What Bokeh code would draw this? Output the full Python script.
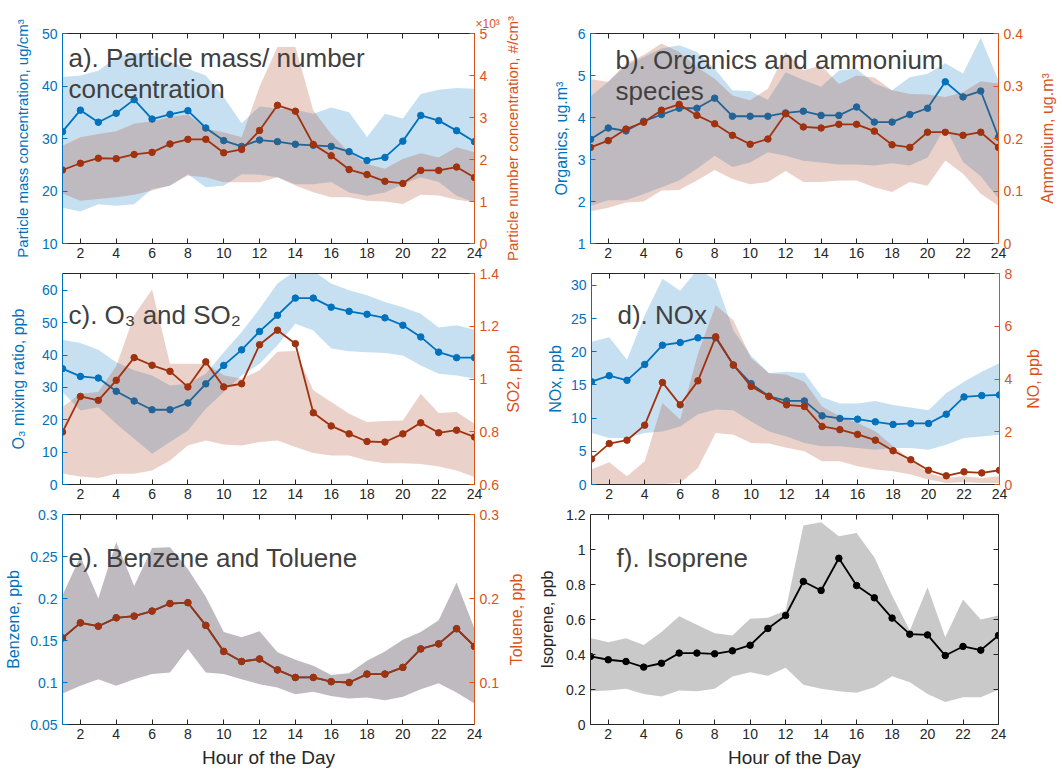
from math import pi

from bokeh.plotting import figure
from bokeh.models import Range1d, LinearAxis, FixedTicker, NumeralTickFormatter, Label, Title
from bokeh.layouts import column, row
from bokeh.embed import file_html
from bokeh.resources import INLINE

FONT = "Liberation Sans"
BLUE = "#0072BD"
RUST = "#A0320F"
AX_ORANGE = "#D95319"
DARK = "#262626"
TITLE_GRAY = "#404040"
ISO_FILL = "#C9C9C9"

hours = list(range(1, 25))
hour_ticks = list(range(2, 25, 2))

# ---- a) particle mass (ug/cm3) and number (x10^3 #/cm3) ----
pm_mean = [31.3, 35.4, 33.1, 34.8, 37.4, 33.7, 34.6, 35.3, 32.0, 29.6, 28.5, 29.7,
           29.4, 28.9, 28.7, 28.5, 27.5, 25.8, 26.4, 29.5, 34.4, 33.4, 31.5, 29.4]
pm_hi = [41.7, 42.0, 42.9, 45.5, 46.3, 45.9, 44.6, 43.3, 42.0, 37.9, 32.9, 36.1,
         35.7, 35.5, 34.7, 35.9, 35.0, 30.3, 34.7, 33.8, 38.5, 39.3, 39.6, 39.5]
pm_lo = [16.8, 16.1, 17.5, 17.2, 17.5, 20.4, 21.0, 23.2, 20.7, 21.0, 23.2, 23.1,
         22.6, 21.3, 21.3, 21.7, 19.7, 19.1, 19.7, 21.3, 22.6, 21.7, 19.1, 17.8]
pn_mean = [1.75, 1.91, 2.03, 2.02, 2.12, 2.17, 2.37, 2.48, 2.48, 2.16, 2.24, 2.69,
           3.29, 3.15, 2.36, 2.09, 1.76, 1.64, 1.48, 1.43, 1.74, 1.74, 1.82, 1.57]
pn_hi = [2.33, 2.53, 2.61, 2.67, 2.85, 2.91, 3.01, 3.07, 2.73, 2.65, 2.53, 3.73,
         4.68, 4.68, 3.17, 2.61, 2.17, 1.89, 1.78, 2.01, 2.15, 2.05, 2.29, 2.17]
pn_lo = [1.19, 1.02, 1.06, 1.10, 1.16, 1.26, 1.38, 1.62, 1.58, 1.46, 1.46, 1.46,
         1.58, 1.38, 1.22, 1.10, 1.10, 1.02, 1.00, 0.94, 1.16, 1.14, 1.04, 0.98]

# ---- b) organics and ammonium ----
org_mean = [3.48, 3.75, 3.68, 3.91, 4.07, 4.22, 4.22, 4.46, 4.03, 4.03, 4.03, 4.11,
            4.15, 4.05, 4.05, 4.25, 3.89, 3.89, 4.07, 4.22, 4.85, 4.49, 4.63, 3.53]
org_hi = [4.50, 4.85, 5.24, 5.44, 5.64, 5.72, 5.56, 5.16, 4.65, 4.63, 4.42, 5.08,
          4.89, 4.73, 5.12, 5.16, 4.81, 4.65, 4.96, 5.04, 5.29, 5.05, 5.90, 4.88]
org_lo = [1.90, 2.03, 2.03, 2.18, 2.34, 2.50, 2.78, 3.09, 2.82, 2.93, 3.17, 3.09,
          2.97, 2.93, 2.88, 2.88, 2.86, 2.91, 2.86, 3.05, 3.77, 2.94, 2.60, 2.07]
amm_mean = [0.183, 0.196, 0.218, 0.231, 0.254, 0.265, 0.244, 0.228, 0.206, 0.189, 0.199, 0.247,
            0.222, 0.220, 0.227, 0.227, 0.214, 0.188, 0.183, 0.212, 0.212, 0.206, 0.212, 0.183]
amm_hi = [0.313, 0.308, 0.343, 0.359, 0.381, 0.365, 0.336, 0.314, 0.282, 0.273, 0.295, 0.365,
          0.330, 0.339, 0.304, 0.320, 0.316, 0.292, 0.285, 0.284, 0.279, 0.288, 0.309, 0.305]
amm_lo = [0.061, 0.068, 0.078, 0.080, 0.101, 0.102, 0.120, 0.140, 0.123, 0.113, 0.117, 0.138,
          0.117, 0.117, 0.120, 0.120, 0.107, 0.098, 0.117, 0.110, 0.158, 0.133, 0.095, 0.072]

# ---- c) O3 and SO2 ----
o3_mean = [35.8, 33.4, 32.9, 28.8, 25.8, 23.1, 23.1, 25.2, 31.1, 36.8, 41.6, 47.3,
           52.3, 57.6, 57.6, 54.8, 53.5, 52.6, 51.5, 49.2, 45.6, 40.9, 39.2, 39.2]
o3_hi = [44.7, 43.7, 41.6, 37.8, 35.3, 33.7, 30.6, 31.1, 34.2, 40.9, 47.1, 54.3,
         62.1, 66.0, 66.0, 62.1, 60.0, 58.5, 56.4, 54.8, 52.8, 48.5, 49.2, 47.8]
o3_lo = [28.6, 22.9, 23.9, 18.8, 14.1, 9.5, 13.1, 16.7, 23.4, 28.6, 33.7, 37.3,
         43.0, 49.7, 47.6, 42.0, 41.2, 40.9, 40.6, 39.9, 36.8, 34.2, 33.7, 32.7]
so2_mean = [0.799, 0.934, 0.919, 0.995, 1.081, 1.052, 1.029, 0.970, 1.065, 0.970, 0.982, 1.130,
            1.185, 1.134, 0.872, 0.822, 0.792, 0.763, 0.761, 0.792, 0.834, 0.796, 0.806, 0.780]
so2_hi = [0.894, 0.944, 0.951, 1.048, 1.242, 1.339, 1.058, 1.058, 1.058, 1.014, 1.001, 1.033,
          1.103, 1.106, 0.957, 0.913, 0.868, 0.837, 0.841, 0.843, 0.944, 0.871, 0.875, 0.830]
so2_lo = [0.641, 0.630, 0.625, 0.641, 0.641, 0.653, 0.691, 0.748, 0.767, 0.752, 0.748, 0.761,
          0.767, 0.742, 0.719, 0.710, 0.710, 0.691, 0.681, 0.681, 0.678, 0.668, 0.653, 0.628]

# ---- d) NOx and NO ----
nox_mean = [15.5, 16.4, 15.7, 18.1, 21.0, 21.4, 22.1, 22.1, 18.0, 15.2, 13.3, 12.6,
            12.6, 10.35, 9.95, 9.85, 9.45, 9.05, 9.2, 9.2, 10.6, 13.2, 13.4, 13.5]
nox_hi = [21.5, 22.2, 18.8, 25.5, 31.0, 29.2, 32.5, 30.8, 23.2, 19.4, 16.8, 17.0,
          16.8, 13.2, 12.2, 12.2, 12.6, 12.0, 11.6, 11.2, 13.8, 15.5, 17.0, 18.3]
nox_lo = [7.75, 7.0, 7.0, 7.75, 8.0, 8.75, 10.6, 11.3, 11.2, 9.5, 8.0, 7.25,
          6.25, 5.75, 5.75, 5.5, 5.25, 5.5, 5.5, 5.25, 6.0, 7.0, 7.25, 7.5]
no_mean = [0.97, 1.55, 1.68, 2.25, 3.87, 3.02, 3.93, 5.60, 4.53, 3.72, 3.34, 3.02,
           2.96, 2.20, 2.08, 1.90, 1.68, 1.28, 0.94, 0.54, 0.33, 0.48, 0.44, 0.54]
no_hi = [0.57, 0.84, 0.31, 0.88, 3.09, 2.46, 4.97, 6.80, 6.23, 4.79, 4.22, 4.16,
         3.90, 2.96, 2.58, 2.33, 2.02, 1.45, 0.94, 0.44, 0.25, 0.31, 0.25, 0.31]
no_lo = [0.0, 0.0, 0.0, 0.0, 0.02, 0.06, 0.63, 1.95, 1.89, 1.57, 1.55, 1.39,
         1.26, 0.88, 0.88, 0.69, 0.57, 0.50, 0.38, 0.19, 0.06, 0.09, 0.06, 0.06]

# ---- e) benzene and toluene ----
benz_mean = [0.153, 0.171, 0.167, 0.177, 0.179, 0.185, 0.194, 0.195, 0.168, 0.137, 0.125, 0.128,
             0.115, 0.106, 0.106, 0.101, 0.100, 0.110, 0.110, 0.118, 0.140, 0.146, 0.164, 0.143]
benz_hi = [0.204, 0.250, 0.200, 0.267, 0.215, 0.260, 0.261, 0.235, 0.202, 0.160, 0.154, 0.161,
           0.136, 0.127, 0.120, 0.109, 0.111, 0.126, 0.137, 0.151, 0.160, 0.174, 0.219, 0.164]
benz_lo = [0.087, 0.096, 0.104, 0.096, 0.104, 0.110, 0.112, 0.140, 0.112, 0.110, 0.104, 0.098,
           0.094, 0.086, 0.089, 0.084, 0.081, 0.082, 0.079, 0.083, 0.092, 0.099, 0.088, 0.075]
tol_mean = [0.153, 0.171, 0.167, 0.177, 0.179, 0.185, 0.194, 0.195, 0.168, 0.137, 0.125, 0.128,
            0.115, 0.106, 0.106, 0.101, 0.100, 0.110, 0.110, 0.118, 0.140, 0.146, 0.164, 0.143]
tol_hi = [0.204, 0.250, 0.200, 0.267, 0.215, 0.260, 0.261, 0.235, 0.202, 0.160, 0.154, 0.161,
          0.136, 0.127, 0.120, 0.109, 0.111, 0.126, 0.137, 0.151, 0.160, 0.174, 0.219, 0.164]
tol_lo = [0.087, 0.096, 0.104, 0.096, 0.104, 0.110, 0.112, 0.140, 0.112, 0.110, 0.104, 0.098,
          0.094, 0.086, 0.089, 0.084, 0.081, 0.082, 0.079, 0.083, 0.092, 0.099, 0.088, 0.075]

# ---- f) isoprene ----
iso_mean = [0.389, 0.370, 0.360, 0.328, 0.350, 0.408, 0.408, 0.404, 0.421, 0.453, 0.549, 0.623,
            0.817, 0.766, 0.950, 0.794, 0.724, 0.608, 0.516, 0.512, 0.394, 0.446, 0.425, 0.509]
iso_hi = [0.495, 0.470, 0.493, 0.455, 0.528, 0.619, 0.570, 0.522, 0.509, 0.604, 0.610, 0.651,
          1.137, 1.156, 1.076, 1.095, 0.956, 0.737, 0.537, 0.785, 0.499, 0.714, 0.600, 0.623]
iso_lo = [0.190, 0.194, 0.204, 0.175, 0.160, 0.194, 0.190, 0.204, 0.274, 0.299, 0.278, 0.324,
          0.227, 0.204, 0.190, 0.181, 0.213, 0.276, 0.242, 0.175, 0.128, 0.156, 0.156, 0.198]


def style_axis(ax, color, ticks, fmt="0.[00]", size="14px"):
    ax.ticker = FixedTicker(ticks=ticks)
    ax.formatter = NumeralTickFormatter(format=fmt)
    ax.axis_line_color = color
    ax.axis_line_width = 1
    ax.major_tick_line_color = color
    ax.major_tick_in = 5
    ax.major_tick_out = 0
    ax.minor_tick_line_color = None
    ax.major_label_text_color = color
    ax.major_label_text_font = FONT
    ax.major_label_text_font_size = size
    ax.major_label_standoff = 5


def name_axis(ax, text, color, size, standoff):
    ax.axis_label = text
    ax.axis_label_text_font = FONT
    ax.axis_label_text_font_size = size
    ax.axis_label_text_font_style = "normal"
    ax.axis_label_text_color = color
    ax.axis_label_standoff = standoff


class Panel:
    """One hour-of-day panel: a framed plot with its own left/right value axes."""

    def __init__(self, fw, fh, borders, ylim, yticks, lcolor,
                 rlim=None, rticks=None, xlabel=None):
        self.fw, self.fh, self.ylim = fw, fh, ylim
        l, r, t, b = borders
        self.top, self.bottom = t, b
        p = figure(frame_width=fw, frame_height=fh,
                   x_range=Range1d(1, 24), y_range=Range1d(*ylim),
                   output_backend="svg", toolbar_location=None,
                   min_border_left=l, min_border_right=r,
                   min_border_top=t, min_border_bottom=b,
                   outline_line_color=None,
                   background_fill_color="white", border_fill_color="white")
        p.xgrid.visible = False
        p.ygrid.visible = False

        xa = p.xaxis[0]
        style_axis(xa, DARK, hour_ticks, fmt="0")
        xa.major_label_standoff = 4
        if xlabel:
            name_axis(xa, xlabel, DARK, "19px", 5)

        top = LinearAxis()
        style_axis(top, DARK, hour_ticks, fmt="0")
        top.major_label_text_font_size = "1px"
        top.major_label_text_alpha = 0
        top.major_label_standoff = 0
        p.add_layout(top, "above")

        self.la = p.yaxis[0]
        style_axis(self.la, lcolor, yticks)

        if rlim is not None:
            p.extra_y_ranges = {"r": Range1d(*rlim)}
            ra = LinearAxis(y_range_name="r")
            style_axis(ra, AX_ORANGE, rticks)
        else:
            ra = LinearAxis()
            style_axis(ra, DARK, yticks)
            ra.major_label_text_font_size = "1px"
            ra.major_label_text_alpha = 0
        p.add_layout(ra, "right")
        self.p = p

    def at(self, dx, dy):
        """Frame pixel offset (from top-left of the frame) to left-axis data coords."""
        lo, hi = self.ylim
        return 1 + dx * 23.0 / self.fw, hi - dy * (hi - lo) / self.fh

    def title(self, dx, dy, txt):
        x, y = self.at(dx, dy)
        self.p.add_layout(Label(x=x, y=y, text=txt, text_font=FONT, text_font_size="26px",
                                text_color=TITLE_GRAY, text_align="left",
                                text_baseline="alphabetic"))

    def ytitle(self, text, size="16px", standoff=6, color=BLUE):
        name_axis(self.la, text, color, size, standoff)

    def band(self, lo, hi, color, alpha, rng="default"):
        self.p.varea(x=hours, y1=lo, y2=hi, fill_color=color, fill_alpha=alpha,
                     y_range_name=rng)

    def series(self, vals, color, rng="default"):
        self.p.line(hours, vals, line_color=color, line_width=1.8, y_range_name=rng)
        self.p.scatter(hours, vals, marker="circle", size=6.5, fill_color=color,
                       line_color=color, y_range_name=rng)

    def pair(self, lmean, llo, lhi, rmean, rlo, rhi):
        self.band(llo, lhi, BLUE, 0.22)
        self.series(lmean, BLUE)
        self.band(rlo, rhi, RUST, 0.22, rng="r")
        self.series(rmean, RUST, rng="r")


def right_title(panel, width, cx, text, size="16px"):
    """Narrow strip beside a panel carrying its right-axis title (read bottom-to-top).

    The title is the axis label of a bare axis that sits against a 1px frame at the
    strip's right edge, so it stays centred on the neighbouring panel's frame.
    """
    half = int(round(float(size[:-2]) * 0.58))
    s = figure(frame_width=1, frame_height=panel.fh,
               x_range=Range1d(0, 1), y_range=Range1d(0, 1), x_axis_type=None,
               output_backend="svg", toolbar_location=None,
               min_border_left=width - 1, min_border_right=0,
               min_border_top=panel.top, min_border_bottom=panel.bottom,
               outline_line_color=None, background_fill_color="white",
               border_fill_color="white")
    s.xgrid.visible = False
    s.ygrid.visible = False
    ax = s.yaxis[0]
    ax.ticker = FixedTicker(ticks=[])
    ax.axis_line_color = None
    ax.major_tick_line_color = None
    ax.minor_tick_line_color = None
    ax.major_tick_in = 0
    ax.major_tick_out = 0
    ax.major_label_text_font_size = "1px"
    ax.major_label_standoff = 0
    name_axis(ax, text, AX_ORANGE, size, max(0, width - 1 - cx - half - 1))
    return s


FW_L, FW_R = 412, 408

# a)
pa = Panel(FW_L, 210, (62, 26, 33, 22), (10, 50), [10, 20, 30, 40, 50], BLUE,
           rlim=(0, 5), rticks=[0, 1, 2, 3, 4, 5])
pa.pair(pm_mean, pm_lo, pm_hi, pn_mean, pn_lo, pn_hi)
pa.title(6, 24, "a). Particle mass/ number")
pa.title(6, 55, "concentration")
pa.ytitle("Particle mass concentration, ug/cm³", size="15px", standoff=8)
pa.p.add_layout(Title(text="×10³", align="left", offset=413, text_font=FONT,
                      text_font_size="12px", text_font_style="normal",
                      text_color=AX_ORANGE, standoff=6), "above")
sa = right_title(pa, 30, 10, "Particle number concentration, #/cm³", size="15px")

# b)
pb = Panel(FW_R, 210, (60, 37, 33, 22), (1, 6), [1, 2, 3, 4, 5, 6], BLUE,
           rlim=(0, 0.4), rticks=[0, 0.1, 0.2, 0.3, 0.4])
pb.pair(org_mean, org_lo, org_hi, amm_mean, amm_lo, amm_hi)
pb.title(25, 26, "b). Organics and ammonium")
pb.title(25, 57, "species")
pb.ytitle("Organics, ug.m³", standoff=5)
sb = right_title(pb, 28, 10, "Ammonium, ug.m³")

# c)
pc = Panel(FW_L, 211, (62, 27, 8, 22), (0, 65.2), [0, 10, 20, 30, 40, 50, 60], BLUE,
           rlim=(0.6, 1.4), rticks=[0.6, 0.8, 1.0, 1.2, 1.4])
pc.pair(o3_mean, o3_lo, o3_hi, so2_mean, so2_lo, so2_hi)
pc.title(6, 41, "c). O₃ and SO₂")
pc.ytitle("O₃ mixing ratio, ppb", standoff=12)
sc = right_title(pc, 29, 9, "SO2, ppb")

# d)
pd = Panel(FW_R, 211, (60, 21, 8, 22), (0, 31.8), [0, 5, 10, 15, 20, 25, 30], BLUE,
           rlim=(0, 8), rticks=[0, 2, 4, 6, 8])
pd.pair(nox_mean, nox_lo, nox_hi, no_mean, no_lo, no_hi)
pd.title(26, 41, "d). NOx")
pd.ytitle("NOx, ppb", standoff=4)
sd = right_title(pd, 44, 11, "NO, ppb")

# e)
pe = Panel(FW_L, 210, (62, 27, 8, 48), (0.05, 0.3), [0.05, 0.1, 0.15, 0.2, 0.25, 0.3], BLUE,
           rlim=(0.05, 0.3), rticks=[0.1, 0.2, 0.3], xlabel="Hour of the Day")
pe.pair(benz_mean, benz_lo, benz_hi, tol_mean, tol_lo, tol_hi)
pe.title(6, 43, "e). Benzene and Toluene")
pe.ytitle("Benzene, ppb", standoff=5)
se = right_title(pe, 29, 13, "Toluene, ppb")

# f)
pf = Panel(FW_R, 210, (60, 65, 8, 48), (0, 1.2), [0, 0.2, 0.4, 0.6, 0.8, 1.0, 1.2], DARK,
           xlabel="Hour of the Day")
pf.band(iso_lo, iso_hi, ISO_FILL, 1.0)
pf.series(iso_mean, "#000000")
pf.title(26, 43, "f). Isoprene")
pf.ytitle("Isoprene, ppb", standoff=7, color=DARK)

layout = column(row(pa.p, sa, pb.p, sb),
                row(pc.p, sc, pd.p, sd),
                row(pe.p, se, pf.p))

with open("out.html", "w") as fh:
    fh.write(file_html(layout, INLINE, "Diurnal profiles"))
